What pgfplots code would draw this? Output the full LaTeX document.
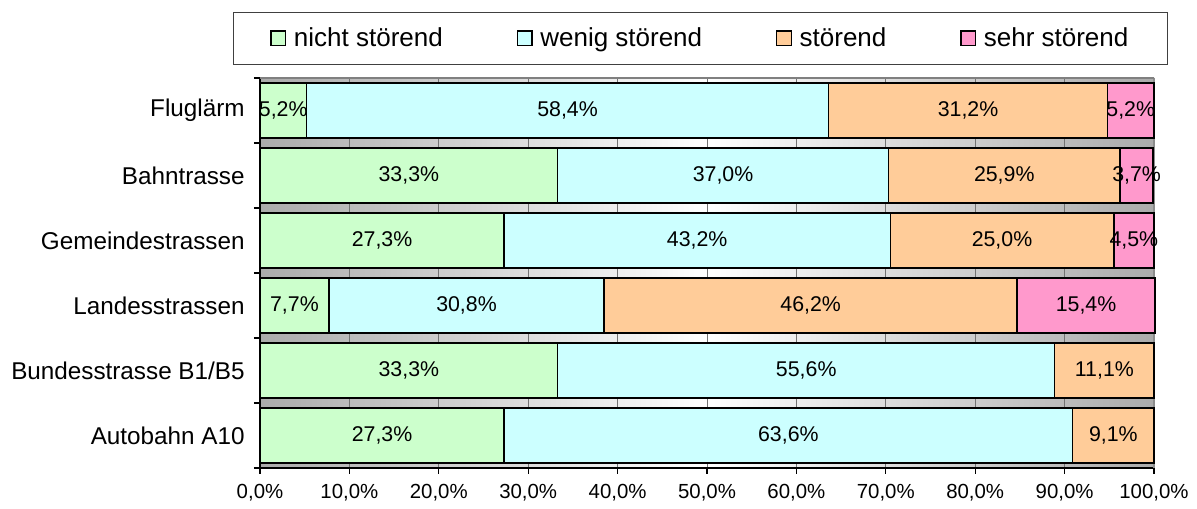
\documentclass[border=0pt]{standalone}
\usepackage{pgfplots}
\pgfplotsset{compat=1.18}
\usepackage{pgfplotstable}
\usepackage{fontspec}
\setmainfont{Liberation Sans}
\definecolor{cgreen}{HTML}{CCFFCC}
\definecolor{ccyan}{HTML}{CCFFFF}
\definecolor{corange}{HTML}{FFCC99}
\definecolor{cpink}{HTML}{FF99CC}
\pgfplotstableread{
idx a b c d
0 27.3 63.6 9.1 0
1 33.3 55.6 11.1 0
2 7.7 30.8 46.2 15.4
3 27.3 43.2 25.0 4.5
4 33.3 37.0 25.9 3.7
5 5.2 58.4 31.2 5.2
}\datatable
\begin{document}
\begin{tikzpicture}
\begin{axis}[
  at={(0,0)}, anchor=south west,
  scale only axis, width=670.5pt, height=292.5pt,
  xbar stacked, bar width=41.25pt,
  xmin=0, xmax=100, ymin=-0.5, ymax=5.5,
  clip=false,
  axis line style={draw=none},
  xtick={0,10,...,100},
  xticklabels={{0,0\%},{10,0\%},{20,0\%},{30,0\%},{40,0\%},{50,0\%},{60,0\%},{70,0\%},{80,0\%},{90,0\%},{100,0\%}},
  ytick={-0.5,0.5,1.5,2.5,3.5,4.5,5.5},
  yticklabels={{},{},{},{},{},{},{}},
  extra y ticks={0,1,2,3,4,5},
  extra y tick labels={Autobahn A10,Bundesstrasse B1/B5,Landesstrassen,Gemeindestrassen,Bahntrasse,Fluglärm},
  extra y tick style={major tick length=0pt, grid=none},
  tick align=outside, tick pos=left,
  major tick length=4.5pt,
  tick style={black, line width=0.8pt},
  xmajorgrids,
  grid style={black!55, line width=0.6pt},
  xticklabel style={font=\fontsize{15.3}{18}\selectfont, yshift=-4.5pt},
  yticklabel style={font=\fontsize{18.2}{21}\selectfont, xshift=-8pt},
  axis background/.style={shade, left color=black!33, right color=black!33, middle color=white},
  point meta=explicit,
  nodes near coords={\pgfmathfloatifflags{\pgfplotspointmeta}{0}{}{\pgfmathprintnumber[fixed,fixed zerofill,precision=1,use comma,assume math mode=true]{\pgfplotspointmeta}\%}},
  every node near coord/.append style={anchor=center, font=\fontsize{16}{19}\selectfont},
  legend columns=4,
  legend image code/.code={\draw[#1, line width=1.1pt] (0pt,-5.5pt) rectangle (11pt,5.5pt);},
  legend style={at={(-0.0302,1.1692)}, anchor=north west, draw=black!75, line width=0.8pt,
    inner xsep=27.5pt, inner ysep=9.5pt, font=\fontsize{19.5}{23}\selectfont,
    /tikz/every odd column/.append style={column sep=3.75pt},
    /tikz/every even column/.append style={column sep=53.25pt}},
]
\addplot[fill=cgreen, draw=black, line width=1.1pt] table[x=a, y=idx, meta=a] {\datatable};
\addlegendentry{nicht störend}
\addplot[fill=ccyan, draw=black, line width=1.1pt] table[x=b, y=idx, meta=b] {\datatable};
\addlegendentry{wenig störend}
\addplot[fill=corange, draw=black, line width=1.1pt] table[x=c, y=idx, meta=c] {\datatable};
\addlegendentry{störend}
\addplot[fill=cpink, draw=black, line width=1.1pt] table[x=d, y=idx, meta=d] {\datatable};
\addlegendentry{sehr störend}
\draw[black!50, line width=2.2pt] (rel axis cs:0,1) -- (rel axis cs:1,1);
\draw[black!45, line width=0.8pt] (rel axis cs:1,0) -- (rel axis cs:1,1);
\draw[black, line width=1.1pt] (rel axis cs:0,1) -- (rel axis cs:0,0) -- (rel axis cs:1,0);
\end{axis}
\pgfresetboundingbox
\useasboundingbox (-195pt,-30.75pt) rectangle (702.75pt,351pt);
\end{tikzpicture}
\end{document}
